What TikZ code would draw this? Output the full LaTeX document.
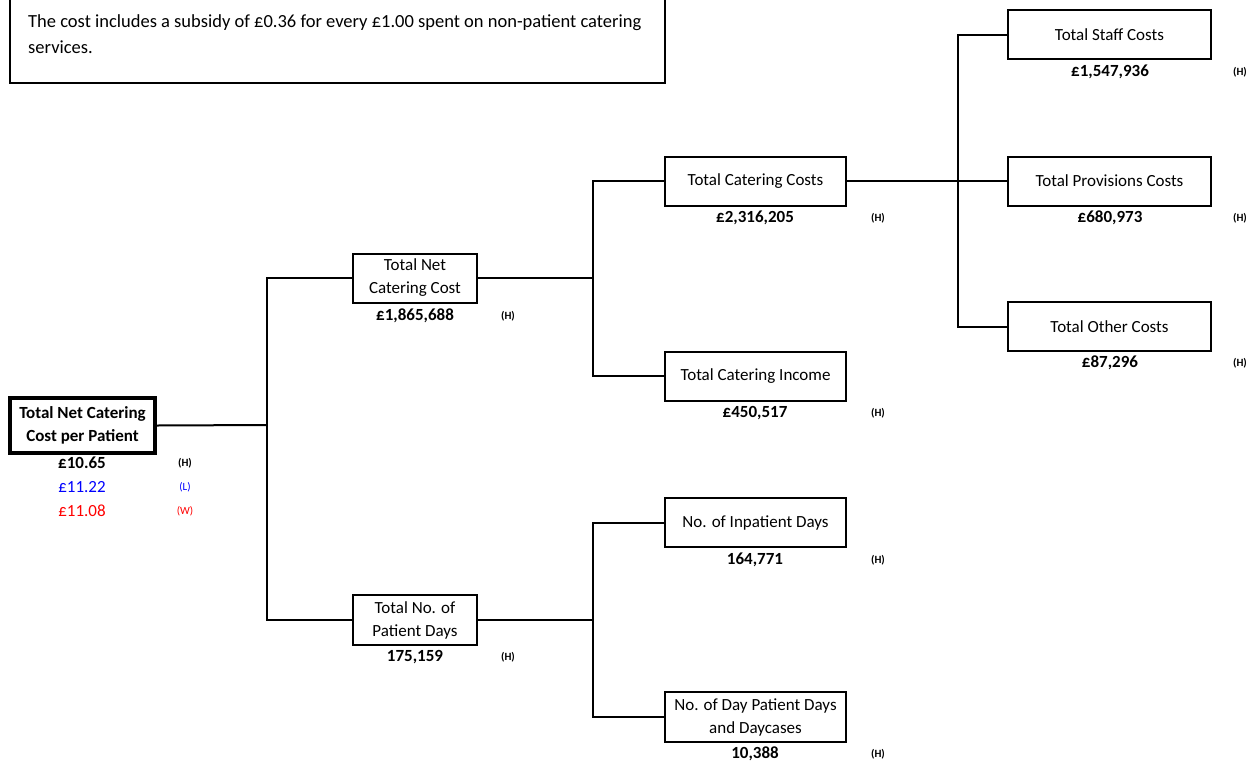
\documentclass[tikz,border=0pt]{standalone}
\usepackage{fontspec}
\setmainfont{Carlito}
\begin{document}
\begin{tikzpicture}[x=1pt,y=-1pt,
  box/.style={draw=black,line width=2pt,inner sep=0pt,align=center,font=\fontsize{17}{23}\selectfont},
  val/.style={inner sep=0pt,font=\bfseries\fontsize{17}{19}\selectfont},
  tag/.style={inner sep=0pt,font=\bfseries\fontsize{11}{12}\selectfont},
  conn/.style={line width=2pt}]
\useasboundingbox (0,0) rectangle (1249,763);
% note box
\draw[line width=2pt] (10,-5) -- (10,83) -- (665,83) -- (665,-5);
\node[anchor=west,inner sep=0pt,font=\fontsize{18.5}{20}\selectfont] (n1) at (28,23) {The cost includes a subsidy of £0.36 for every £1.00 spent on non-patient catering};
\node[anchor=west,inner sep=0pt,font=\fontsize{18.5}{20}\selectfont] (n2) at (28,47) {services.};
% root
\node[box,line width=4pt,font=\bfseries\fontsize{17}{23}\selectfont,minimum width=145pt,minimum height=55pt] (root) at (82.5,425.5) {Total Net Catering\\Cost per Patient};
\node[val] (rv1) at (82,463) {£10.65};
\node[tag] (rt1) at (185,463) {(H)};
\node[val,font=\fontsize{17}{19}\selectfont,text={rgb,255:red,0;green,0;blue,255}] (rv2) at (82,487) {£11.22};
\node[tag,font=\fontsize{11}{12}\selectfont,text={rgb,255:red,0;green,0;blue,255}] (rt2) at (185,487) {(L)};
\node[val,font=\fontsize{17}{19}\selectfont,text={rgb,255:red,255;green,0;blue,0}] (rv3) at (82,511) {£11.08};
\node[tag,font=\fontsize{11}{12}\selectfont,text={rgb,255:red,255;green,0;blue,0}] (rt3) at (185,511) {(W)};
% level 1
\node[box,minimum width=124pt,minimum height=49pt] (tncc) at (415,278) {Total Net\\Catering Cost};
\node[val] (tnccv) at (415,316) {£1,865,688};
\node[tag] (tncct) at (508,316) {(H)};
\node[box,minimum width=124pt,minimum height=50pt] (tpd) at (415,620) {Total No. of\\Patient Days};
\node[val] (tpdv) at (415,657) {175,159};
\node[tag] (tpdt) at (508,657) {(H)};
% level 2
\node[box,minimum width=181pt,minimum height=49pt] (tcc) at (755.5,181) {Total Catering Costs};
\node[val] (tccv) at (755,218) {£2,316,205};
\node[tag] (tcct) at (878,218) {(H)};
\node[box,minimum width=181pt,minimum height=49pt] (tci) at (755.5,376) {Total Catering Income};
\node[val] (tciv) at (755,413) {£450,517};
\node[tag] (tcit) at (878,413) {(H)};
\node[box,minimum width=181pt,minimum height=49pt] (nid) at (755.5,522.5) {No. of Inpatient Days};
\node[val] (nidv) at (755,560) {164,771};
\node[tag] (nidt) at (878,560) {(H)};
\node[box,minimum width=181pt,minimum height=50pt] (ndp) at (755.5,717) {No. of Day Patient Days\\and Daycases};
\node[val] (ndpv) at (755,754) {10,388};
\node[tag] (ndpt) at (878,754) {(H)};
% level 3
\node[box,minimum width=203pt,minimum height=49pt] (tsc) at (1109.5,34.5) {Total Staff Costs};
\node[val] (tscv) at (1110,72) {£1,547,936};
\node[tag] (tsct) at (1240,72) {(H)};
\node[box,minimum width=203pt,minimum height=49pt] (tpc) at (1109.5,181) {Total Provisions Costs};
\node[val] (tpcv) at (1110,218) {£680,973};
\node[tag] (tpct) at (1240,218) {(H)};
\node[box,minimum width=203pt,minimum height=49pt] (toc) at (1109.5,326.5) {Total Other Costs};
\node[val] (tocv) at (1110,363) {£87,296};
\node[tag] (toct) at (1240,363) {(H)};
% connectors
\coordinate (j1) at (267,425);
\draw[conn] (root.east) -- (j1);
\draw[conn] (tncc.west) -| (j1) |- (tpd.west);
\coordinate (j2) at (593,278);
\draw[conn] (tncc.east) -- (j2);
\draw[conn] (tcc.west) -| (j2) |- (tci.west);
\coordinate (j3) at (593,620);
\draw[conn] (tpd.east) -- (j3);
\draw[conn] (nid.west) -| (j3) |- (ndp.west);
\coordinate (j4) at (958,181);
\draw[conn] (tcc.east) -- (tpc.west);
\draw[conn] (tsc.west) -| (j4) |- (toc.west);
\end{tikzpicture}
\end{document}
